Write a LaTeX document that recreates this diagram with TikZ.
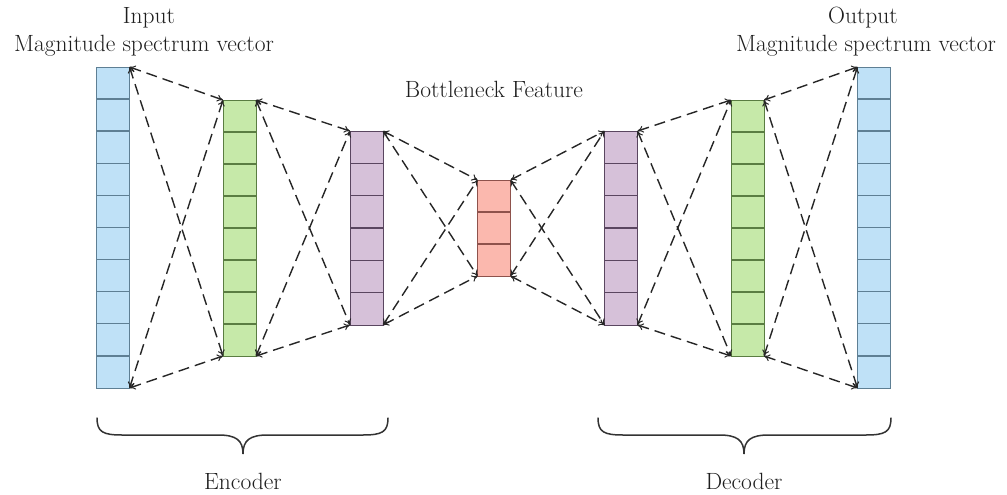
\documentclass[tikz,border=0pt]{standalone}
\usetikzlibrary{arrows.meta,calc}
\definecolor{bluefill}{HTML}{BFE1F7}
\definecolor{blueline}{HTML}{5E7F94}
\definecolor{greenfill}{HTML}{C6E9A9}
\definecolor{greenline}{HTML}{5A7D42}
\definecolor{purplefill}{HTML}{D6C1D9}
\definecolor{purpleline}{HTML}{5A4660}
\definecolor{pinkfill}{HTML}{FBB8AE}
\definecolor{pinkline}{HTML}{8E524C}
\definecolor{txt}{HTML}{1E1E1E}
\tikzset{
  layer/.style={draw=#1line, fill=#1fill, line width=0.9pt, minimum width=33pt, inner sep=0pt, outer sep=0pt},
  conn/.style={draw=black!85, line width=1.4pt, dash pattern=on 11pt off 6pt,
    arrows={To[length=6pt,width=7pt,line width=1pt]-To[length=6pt,width=7pt,line width=1pt]}},
  lbl/.style={text=txt, font=\fontsize{23.5}{26}\selectfont, inner sep=0pt},
  bracestyle/.style={draw=black!80, line width=1.5pt, line cap=round}
}
\newcommand{\dividers}[3]{% node, cells, colour
  \foreach \k in {1,...,\numexpr#2-1\relax}{
    \draw[#3line, line width=1.4pt] ($(#1.north west)!\k/#2!(#1.south west)$) -- ($(#1.north east)!\k/#2!(#1.south east)$);
  }}
\begin{document}
\begin{tikzpicture}[x=1pt,y=-1pt]
\useasboundingbox (0,0) rectangle (1007,495);
% layers
\node[layer=blue, minimum height=321pt] (in) at (113,227.5) {};
\node[layer=green, minimum height=256pt] (g1) at (239.5,228) {};
\node[layer=purple, minimum height=194pt] (p1) at (366.5,228) {};
\node[layer=pink, minimum height=96pt] (b) at (494,228) {};
\node[layer=purple, minimum height=194pt] (p2) at (621,228) {};
\node[layer=green, minimum height=256pt] (g2) at (747.5,228) {};
\node[layer=blue, minimum height=321pt] (out) at (874,227.5) {};
\dividers{in}{10}{blue}
\dividers{g1}{8}{green}
\dividers{p1}{6}{purple}
\dividers{b}{3}{pink}
\dividers{p2}{6}{purple}
\dividers{g2}{8}{green}
\dividers{out}{10}{blue}
% connectors
\foreach \a/\bb in {in/g1, g1/p1, p1/b, b/p2, p2/g2, g2/out}{
  \draw[conn] (\a.north east) -- (\bb.north west);
  \draw[conn] (\a.north east) -- (\bb.south west);
  \draw[conn] (\a.south east) -- (\bb.north west);
  \draw[conn] (\a.south east) -- (\bb.south west);
}
% labels
\node[lbl] (tin) at (149,18) {Input};
\node[lbl] (tinm) at (144,46) {Magnitude spectrum vector};
\node[lbl] (tout) at (863,18) {Output};
\node[lbl] (toutm) at (866,46) {Magnitude spectrum vector};
\node[lbl] (tb) at (494,89) {Bottleneck Feature};
\node[lbl] (tenc) at (243,481) {Encoder};
\node[lbl] (tdec) at (744,481) {Decoder};
% braces
\draw[bracestyle] (97,418) .. controls (97,432) and (103,435) .. (122,435) -- (218,435)
  .. controls (236,435) and (243,440) .. (243,454)
  .. controls (243,440) and (250,435) .. (268,435) -- (363,435)
  .. controls (382,435) and (388,432) .. (388,418);
\draw[bracestyle] (598,418) .. controls (598,432) and (604,435) .. (623,435) -- (719,435)
  .. controls (737,435) and (744,440) .. (744,454)
  .. controls (744,440) and (751,435) .. (769,435) -- (866,435)
  .. controls (885,435) and (891,432) .. (891,418);
\end{tikzpicture}
\end{document}
